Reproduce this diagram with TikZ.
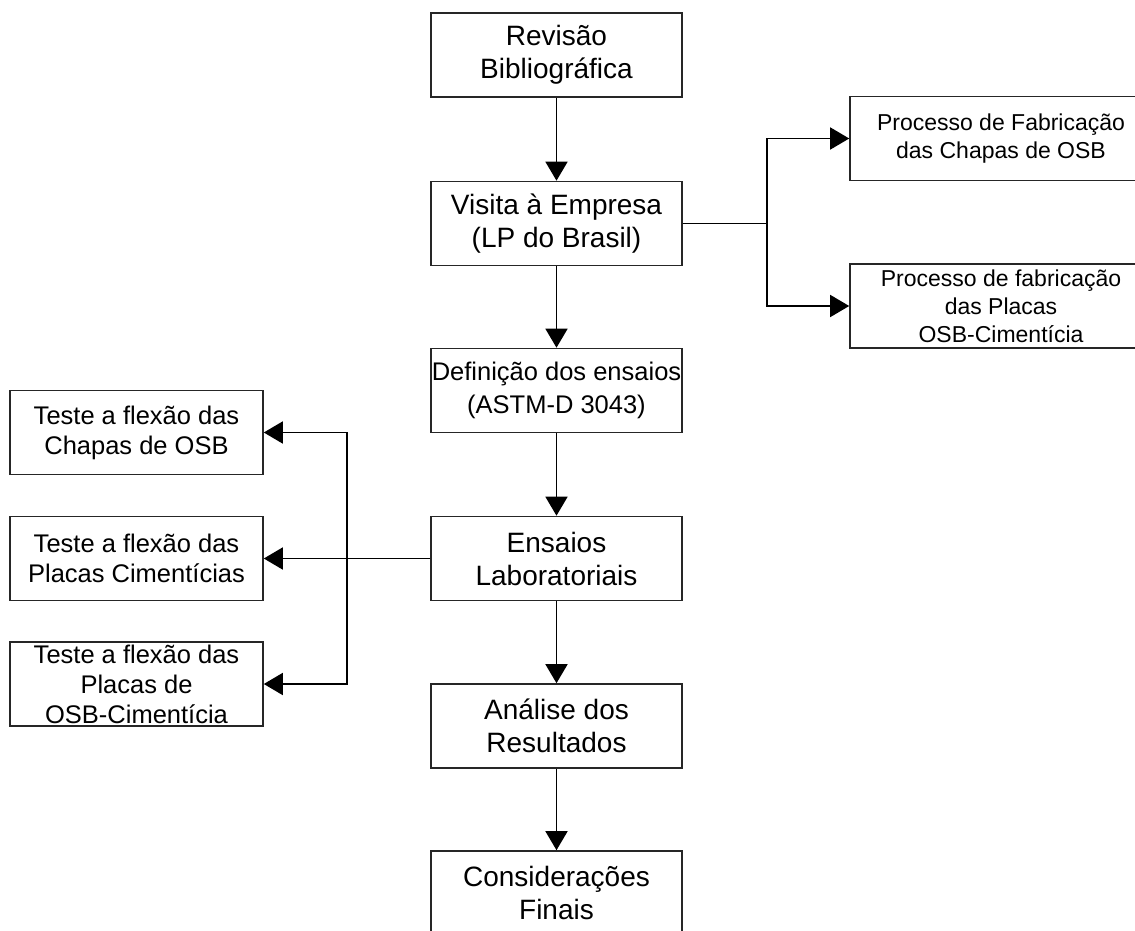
\documentclass[tikz,border=0pt]{standalone}
\usepackage{fontspec}
\setmainfont{Liberation Sans}
\usetikzlibrary{arrows.meta}

\begin{document}
\begin{tikzpicture}[
    x=1pt, y=-1pt,
    line width=1.6pt,
    >={Triangle[length=19pt, width=22pt]},
    box/.style={draw=black!85, rectangle, align=center, inner xsep=1pt, inner ysep=0pt,
        minimum width=251pt, minimum height=84pt,
        font=\fontsize{28}{33}\selectfont},
    sidebox/.style={box, minimum width=253pt, font=\fontsize{25.5}{30}\selectfont},
    procbox/.style={box, minimum width=302pt, font=\fontsize{23}{28}\selectfont}
]
    \useasboundingbox (0,0) rectangle (1135,931);

    % Main column:
    \node[box] (revisao) at (556.5,55) {Revisão\\ Bibliográfica};
    \node[box] (visita) at (556.5,223.5) {Visita à Empresa\\ (LP do Brasil)};
    \node[box, font=\fontsize{25.5}{33}\selectfont] (definicao) at (556.5,390.5) {Definição dos ensaios\\ (ASTM-D 3043)};
    \node[box] (ensaios) at (556.5,558.5) {Ensaios\\ Laboratoriais};
    \node[box] (analise) at (556.5,726) {Análise dos\\ Resultados};
    \node[box] (consid) at (556.5,893) {Considerações\\ Finais};

    % Right branch:
    \node[procbox] (fabOSB) at (1001,138.5) {Processo de Fabricação\\ das Chapas de OSB};
    \node[procbox] (fabCim) at (1001,306) {Processo de fabricação\\ das Placas\\ OSB-Cimentícia};

    % Left branch:
    \node[sidebox] (testeOSB) at (136.5,432.5) {Teste a flexão das\\ Chapas de OSB};
    \node[sidebox] (testeCim) at (136.5,558.5) {Teste a flexão das\\ Placas Cimentícias};
    \node[sidebox] (testeOC) at (136.5,684) {Teste a flexão das\\ Placas de\\ OSB-Cimentícia};

    \coordinate (forkR) at (767,223.5);
    \coordinate (forkL) at (347,558.5);

    \draw[->] (revisao) -- (visita);
    \draw[->] (visita) -- (definicao);
    \draw[->] (definicao) -- (ensaios);
    \draw[->] (ensaios) -- (analise);
    \draw[->] (analise) -- (consid);

    \draw (visita.east) -- (forkR);
    \draw[->] (forkR) |- (fabOSB.west);
    \draw[->] (forkR) |- (fabCim.west);

    \draw[->] (ensaios.west) -- (testeCim.east);
    \draw[->] (forkL) |- (testeOSB.east);
    \draw[->] (forkL) |- (testeOC.east);
\end{tikzpicture}
\end{document}
